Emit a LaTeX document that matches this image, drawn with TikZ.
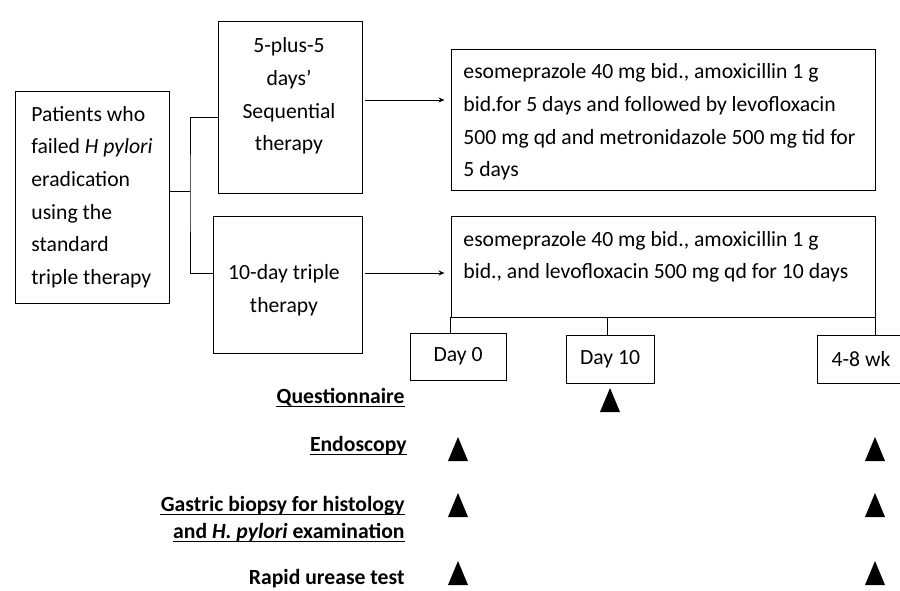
\documentclass[tikz,border=0pt]{standalone}
\usepackage{fontspec}
\setmainfont{Carlito}
\usetikzlibrary{arrows.meta}

\begin{document}
\begin{tikzpicture}[
  x=0.3mm, y=-0.3mm,
  font=\fontsize{18.5}{27.8}\selectfont,
  line width=0.8pt,
  box/.style={draw,inner sep=0pt},
  txt/.style={inner sep=0pt},
  lbl/.style={font=\fontsize{18.5}{27.8}\selectfont\bfseries,inner sep=0pt,anchor=base east},
  arr/.style={-{Stealth[length=1.8mm,width=1.5mm]},shorten <=0.9mm,shorten >=1.8mm},
  ul/.style={line width=0.7pt},
  hit/.style={fill=black}
]
\useasboundingbox (0,0) rectangle (900,590);
\clip (0,0) rectangle (900,590);

% ---------------- patients ----------------
\node[box,align=left,minimum width=46.2mm,minimum height=63.6mm] (pat) at (92,197)
  {Patients who\\failed \textit{H pylori}\\eradication\\using the\\standard\\triple therapy};

% ---------------- the two arms ----------------
\node[box,minimum width=43.2mm,minimum height=51.6mm] (seq) at (290,107) {};
\node[txt,align=center] (seqtxt) at (289,96) {5-plus-5\\days’\\Sequential\\therapy};
\node[box,minimum width=44.7mm,minimum height=41.1mm] (tri) at (287.5,284.5) {};
\node[txt,align=center] (tritxt) at (284,290) {10-day triple\\therapy};

\coordinate (fork) at (190,191);
\draw (pat.east |- fork) -- (fork);
\draw (seq.west |- 0,117) -| (fork) |- (tri.west |- 0,273);

% ---------------- regimens ----------------
\node[box,minimum width=127.2mm,minimum height=42.3mm] (regA) at (663,119.5) {};
\node[txt,align=left,anchor=west] (regAtxt) at (463,122)
  {esomeprazole 40 mg bid., amoxicillin 1 g\\bid.for 5 days and followed by levofloxacin\\500 mg qd and metronidazole 500 mg tid for\\5 days};
\node[box,minimum width=127.2mm,minimum height=30.3mm] (regB) at (663,266.5) {};
\node[txt,align=left,anchor=west] (regBtxt) at (463,257)
  {esomeprazole 40 mg bid., amoxicillin 1 g\\bid., and levofloxacin 500 mg qd for 10 days};

\draw[arr] (seq.east |- 0,100) -- (regA.west |- 0,100);
\draw[arr] (tri.east |- 0,273) -- (regB.west |- 0,273);

% ---------------- time points ----------------
\node[box,minimum width=28.8mm,minimum height=14.1mm] (d0) at (458,356.5) {Day 0};
\node[box,minimum width=26.4mm,minimum height=14.4mm] (d10) at (610,359) {Day 10};
\node[box,minimum width=26.4mm,minimum height=14.4mm] (wk) at (861,359) {4-8 wk};
\draw (regB.south west) -- (regB.south west |- d0.north);
\draw ([xshift=-0.9mm]d10.north |- regB.south) -- ([xshift=-0.9mm]d10.north);
\draw (regB.south east) -- (regB.south east |- wk.north);

% ---------------- assessments ----------------
\node[lbl] (quest) at (405,403) {Questionnaire};
\node[lbl] (endo) at (407,451) {Endoscopy};
\node[lbl] (biop) at (405,511) {Gastric biopsy for histology};
\node[lbl] (biop2) at (405,538) {and \textit{H. pylori} examination};
\node[lbl] (rut) at (405,584) {Rapid urease test};
\foreach \n in {quest,endo,biop,biop2}
  \draw[ul] ([yshift=-1mm]\n.base west) -- ([yshift=-1mm]\n.base east);

\foreach \px/\py in {610/400,458/449,875/449,458/505,875/505,458/573,875/573}
  \fill[hit] (\px-10,\py+12) -- (\px+10,\py+12) -- (\px,\py-12) -- cycle;
\end{tikzpicture}
\end{document}
